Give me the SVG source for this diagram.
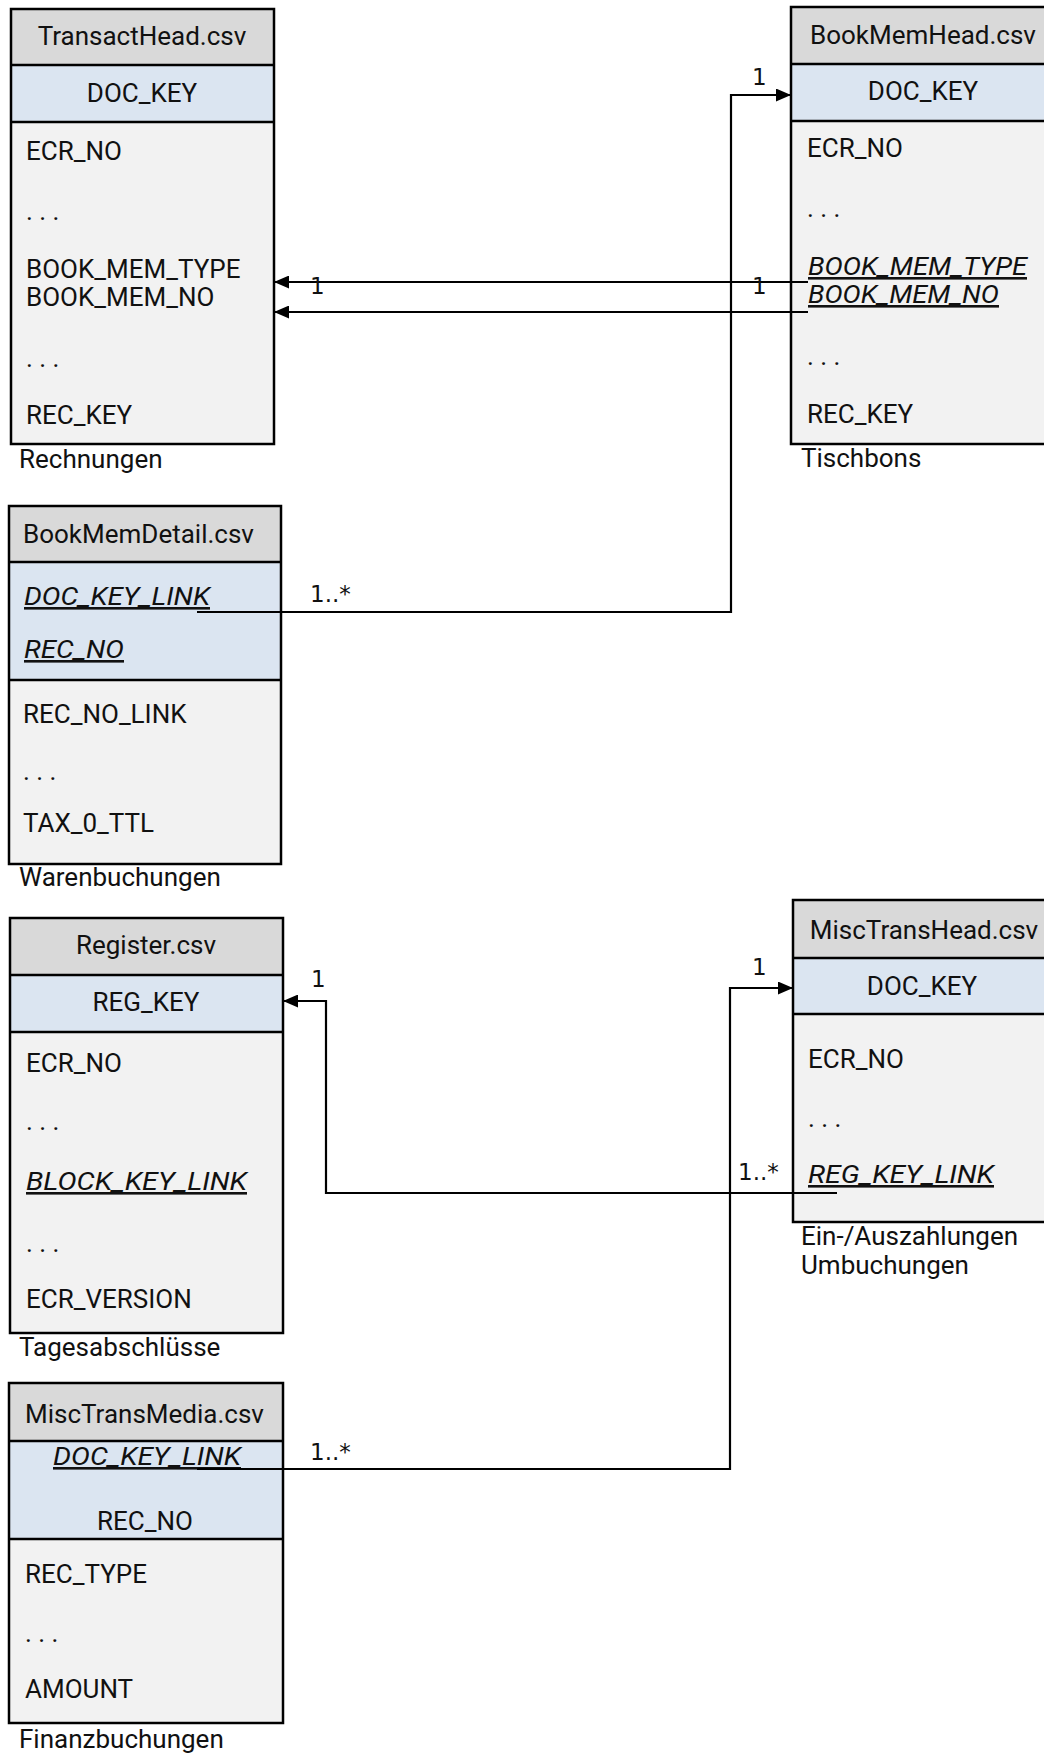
<svg xmlns="http://www.w3.org/2000/svg" width="1044" height="1755" viewBox="0 0 1044 1755">
<defs>
<style>
.hd{fill:#d9d9d9;stroke:none}
.ky{fill:#dbe5f1;stroke:none}
.bd{fill:#f2f2f2;stroke:none}
.bx{fill:none;stroke:#000;stroke-width:2.5}
.sep{stroke:#000;stroke-width:2.5}
text{font-family:Roboto,"Liberation Sans",Arial,sans-serif;font-size:26px;fill:#111}
.c{text-anchor:middle}
.u{font-style:italic;text-decoration:underline}
.lbl{font-family:"DejaVu Sans",sans-serif;font-size:23px}
.cn{fill:none;stroke:#000;stroke-width:2.2}
</style>
<marker id="ar" viewBox="0 0 15 13" refX="15" refY="6.5" markerWidth="15" markerHeight="13" markerUnits="userSpaceOnUse" orient="auto">
<path d="M0,0 L15,6.5 L0,13 z" fill="#000"/>
</marker>
</defs>
<rect width="1044" height="1755" fill="#fff"/>

<g id="TransactHead">
<rect class="bd" x="11" y="9" width="263" height="435"/>
<rect class="hd" x="11" y="9" width="263" height="56"/>
<rect class="ky" x="11" y="65" width="263" height="57"/>
<line class="sep" x1="11" y1="65" x2="274" y2="65"/>
<line class="sep" x1="11" y1="122" x2="274" y2="122"/>
<rect class="bx" x="11" y="9" width="263" height="435"/>
<text class="c" x="142" y="45">TransactHead.csv</text>
<text class="c" x="142" y="102">DOC_KEY</text>
<text x="26" y="160">ECR_NO</text>
<text x="26" y="220">. . .</text>
<text x="26" y="278">BOOK_MEM_TYPE</text>
<text x="26" y="306">BOOK_MEM_NO</text>
<text x="26" y="367">. . .</text>
<text x="26" y="424">REC_KEY</text>
<text x="19" y="468">Rechnungen</text>
</g>

<g id="BookMemHead">
<rect class="bd" x="791" y="7" width="264" height="437"/>
<rect class="hd" x="791" y="7" width="264" height="57"/>
<rect class="ky" x="791" y="64" width="264" height="57"/>
<line class="sep" x1="791" y1="64" x2="1055" y2="64"/>
<line class="sep" x1="791" y1="121" x2="1055" y2="121"/>
<rect class="bx" x="791" y="7" width="264" height="437"/>
<text class="c" x="923" y="44">BookMemHead.csv</text>
<text class="c" x="923" y="100">DOC_KEY</text>
<text x="807" y="157">ECR_NO</text>
<text x="807" y="217">. . .</text>
<text class="u" x="808" y="275" textLength="219" lengthAdjust="spacingAndGlyphs">BOOK_MEM_TYPE</text>
<text class="u" x="808" y="303" textLength="191" lengthAdjust="spacingAndGlyphs">BOOK_MEM_NO</text>
<text x="807" y="365">. . .</text>
<text x="807" y="423">REC_KEY</text>
<text x="801" y="467">Tischbons</text>
</g>

<g id="BookMemDetail">
<rect class="bd" x="9" y="506" width="272" height="358"/>
<rect class="hd" x="9" y="506" width="272" height="56"/>
<rect class="ky" x="9" y="562" width="272" height="118"/>
<line class="sep" x1="9" y1="562" x2="281" y2="562"/>
<line class="sep" x1="9" y1="680" x2="281" y2="680"/>
<rect class="bx" x="9" y="506" width="272" height="358"/>
<text x="23" y="543">BookMemDetail.csv</text>
<text class="u" x="24" y="605" textLength="186" lengthAdjust="spacingAndGlyphs">DOC_KEY_LINK</text>
<text class="u" x="24" y="658" textLength="100" lengthAdjust="spacingAndGlyphs">REC_NO</text>
<text x="23" y="723">REC_NO_LINK</text>
<text x="23" y="780">. . .</text>
<text x="23" y="832">TAX_0_TTL</text>
<text x="19" y="886">Warenbuchungen</text>
</g>

<g id="Register">
<rect class="bd" x="10" y="918" width="273" height="415"/>
<rect class="hd" x="10" y="918" width="273" height="57"/>
<rect class="ky" x="10" y="975" width="273" height="57"/>
<line class="sep" x1="10" y1="975" x2="283" y2="975"/>
<line class="sep" x1="10" y1="1032" x2="283" y2="1032"/>
<rect class="bx" x="10" y="918" width="273" height="415"/>
<text class="c" x="146" y="954">Register.csv</text>
<text class="c" x="146" y="1011">REG_KEY</text>
<text x="26" y="1072">ECR_NO</text>
<text x="26" y="1130">. . .</text>
<text class="u" x="26" y="1190" textLength="221" lengthAdjust="spacingAndGlyphs">BLOCK_KEY_LINK</text>
<text x="26" y="1252">. . .</text>
<text x="26" y="1308">ECR_VERSION</text>
<text x="19" y="1356">Tagesabschlüsse</text>
</g>

<g id="MiscTransHead">
<rect class="bd" x="793" y="900" width="262" height="322"/>
<rect class="hd" x="793" y="900" width="262" height="58"/>
<rect class="ky" x="793" y="958" width="262" height="56"/>
<line class="sep" x1="793" y1="958" x2="1055" y2="958"/>
<line class="sep" x1="793" y1="1014" x2="1055" y2="1014"/>
<rect class="bx" x="793" y="900" width="262" height="322"/>
<text class="c" x="924" y="939">MiscTransHead.csv</text>
<text class="c" x="922" y="995">DOC_KEY</text>
<text x="808" y="1068">ECR_NO</text>
<text x="808" y="1127">. . .</text>
<text class="u" x="808" y="1183" textLength="186" lengthAdjust="spacingAndGlyphs">REG_KEY_LINK</text>
<text x="801" y="1245">Ein-/Auszahlungen</text>
<text x="801" y="1274">Umbuchungen</text>
</g>

<g id="MiscTransMedia">
<rect class="bd" x="9" y="1383" width="274" height="340"/>
<rect class="hd" x="9" y="1383" width="274" height="58"/>
<rect class="ky" x="9" y="1441" width="274" height="98"/>
<line class="sep" x1="9" y1="1441" x2="283" y2="1441"/>
<line class="sep" x1="9" y1="1539" x2="283" y2="1539"/>
<rect class="bx" x="9" y="1383" width="274" height="340"/>
<text x="25" y="1423">MiscTransMedia.csv</text>
<text class="u" x="53" y="1465" textLength="188" lengthAdjust="spacingAndGlyphs">DOC_KEY_LINK</text>
<text class="c" x="145" y="1530">REC_NO</text>
<text x="25" y="1583">REC_TYPE</text>
<text x="25" y="1642">. . .</text>
<text x="25" y="1698">AMOUNT</text>
<text x="19" y="1748">Finanzbuchungen</text>
</g>

<g id="connectors">
<polyline class="cn" points="197,612 731,612 731,95 791,95" marker-end="url(#ar)"/>
<polyline class="cn" points="808,282 274,282" marker-end="url(#ar)"/>
<polyline class="cn" points="808,312 274,312" marker-end="url(#ar)"/>
<polyline class="cn" points="837,1193 326,1193 326,1001 283,1001" marker-end="url(#ar)"/>
<polyline class="cn" points="197,1469 730,1469 730,988 793,988" marker-end="url(#ar)"/>
<text class="lbl" x="310" y="602">1..*</text>
<text class="lbl" x="752" y="85">1</text>
<text class="lbl" x="310" y="294">1</text>
<text class="lbl" x="752" y="294">1</text>
<text class="lbl" x="311" y="987">1</text>
<text class="lbl" x="738" y="1180">1..*</text>
<text class="lbl" x="752" y="975">1</text>
<text class="lbl" x="310" y="1460">1..*</text>
</g>
</svg>
